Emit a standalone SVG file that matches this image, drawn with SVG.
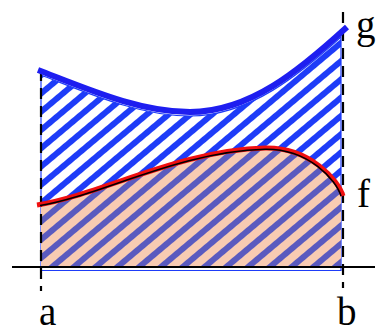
<svg xmlns="http://www.w3.org/2000/svg" width="377" height="333" viewBox="0 0 377 333">
<style>
.lbl{font-family:"Liberation Serif","Times New Roman",serif;font-size:39px;fill:#000}
.dash{stroke:#000;stroke-width:2.2;stroke-dasharray:11 7;fill:none}
</style>
<defs>
<pattern id="hb" patternUnits="userSpaceOnUse" width="40" height="14" patternTransform="rotate(-40)">
<rect x="0" y="0" width="40" height="3" fill="#1e3cf8"/>
<rect x="0" y="11" width="40" height="3" fill="#1e3cf8"/>
</pattern>
<pattern id="hp" patternUnits="userSpaceOnUse" width="40" height="14" patternTransform="rotate(-40)">
<rect x="0" y="0" width="40" height="14" fill="#f8cbb2"/>
<rect x="0" y="0" width="40" height="3" fill="#5a5abf"/>
<rect x="0" y="11" width="40" height="3" fill="#5a5abf"/>
</pattern>
<clipPath id="cl"><rect x="41" y="0" width="300" height="333"/></clipPath>
</defs>
<rect width="377" height="333" fill="#fff"/>
<g id="region-g">
<path d="M38,74 C90,94 140,116 190,116 C250,116 300,74 347,31 L341,31 L341,268 L41,268 L41,74 Z" fill="url(#hb)" clip-path="url(#cl)"/>
<path d="M41,75 C90,94 140,116 190,116 C250,116 300,74 341,37 L341,270.5 L41,270.5 Z" fill="none" stroke="#1e3cf8" stroke-width="1.2"/>
</g>
<g id="region-f">
<path d="M37,205 C100,195 180,150 265,148 C310,147 338,180 343,196 L343,268 L37,268 Z" fill="url(#hp)" clip-path="url(#cl)"/>
</g>
<g id="connectors">
<line class="dash" x1="41" y1="70" x2="41" y2="291"/>
<line class="dash" x1="343" y1="12" x2="343" y2="288"/>
<line x1="12" y1="267" x2="375" y2="267" stroke="#000" stroke-width="2"/>
</g>
<g id="curve-g">
<path d="M38,70 C90,90 140,112 190,112 C250,112 300,70 347,27" fill="none" stroke="#1e1ef0" stroke-width="6"/>
</g>
<g id="curve-f">
<path d="M37,205 C100,195 180,150 265,148 C310,147 338,180 343,196" fill="none" stroke="#f01010" stroke-width="5"/>
<path d="M40,205.5 C100,196 180,151 265,149.2 C309,148.5 336,180 341,196" fill="none" stroke="#000" stroke-width="1.6"/>
</g>
<g id="labels">
<text class="lbl" x="356" y="38">g</text>
<text class="lbl" x="357" y="207">f</text>
<text class="lbl" x="39" y="325">a</text>
<text class="lbl" x="337" y="325">b</text>
</g>
</svg>
